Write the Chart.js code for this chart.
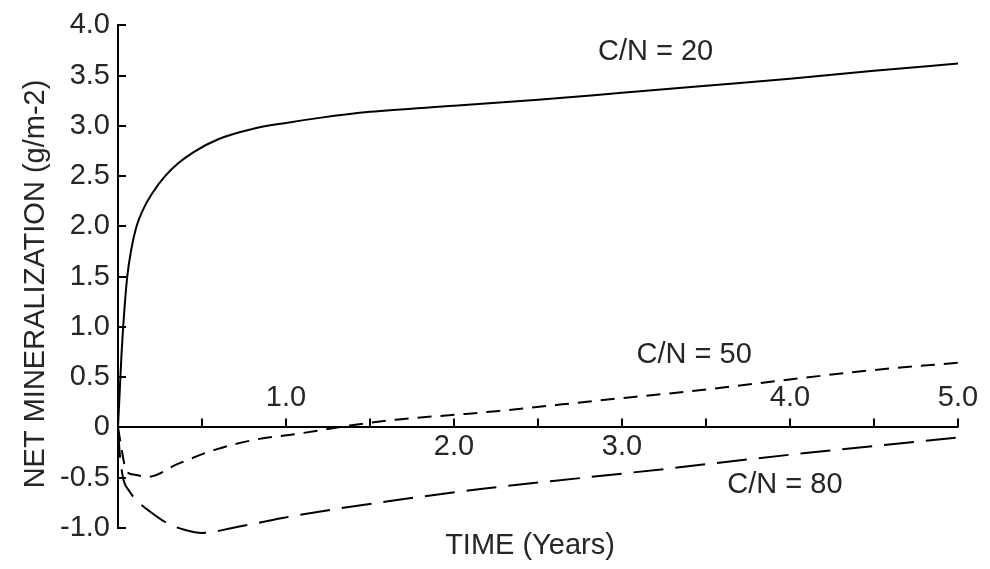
<!DOCTYPE html>
<html>
<head>
<meta charset="utf-8">
<script src="https://cdn.jsdelivr.net/npm/chart.js@4/dist/chart.umd.min.js"></script>
<style>
  body { margin: 0; background: #fff; }
  #wrap { width: 990px; height: 569px; }
</style>
</head>
<body>
<div id="wrap"><canvas id="chart"></canvas></div>
<script>
// values (time in years, mineralization in g/m-2)
const timeCN20 = [0, 0.01, 0.02, 0.035, 0.055, 0.08, 0.11, 0.15, 0.2, 0.28, 0.36, 0.45, 0.6, 0.8, 1.0, 1.2, 1.5, 2.0, 2.5, 3.0, 3.5, 4.0, 4.5, 5.0];
const valueCN20 = [0, 0.35, 0.7, 1.1, 1.5, 1.78, 2.0, 2.17, 2.32, 2.5, 2.63, 2.74, 2.87, 2.97, 3.03, 3.08, 3.14, 3.2, 3.26, 3.33, 3.4, 3.47, 3.55, 3.62];

const timeCN50 = [0, 0.02, 0.04, 0.06, 0.1, 0.18, 0.36, 0.58, 0.82, 1.08, 1.38, 1.67, 2.07, 2.27, 2.87, 3.46, 3.96, 4.46, 5.0];
const valueCN50 = [0, -0.2, -0.38, -0.45, -0.47, -0.49, -0.36, -0.22, -0.12, -0.06, 0.02, 0.08, 0.135, 0.165, 0.27, 0.37, 0.47, 0.565, 0.645];

const timeCN80 = [0, 0.01, 0.03, 0.066, 0.12, 0.185, 0.29, 0.4, 0.5, 0.68, 0.98, 1.28, 1.67, 2.17, 2.77, 3.27, 3.76, 4.26, 5.0];
const valueCN80 = [0, -0.25, -0.5, -0.63, -0.74, -0.83, -0.95, -1.02, -1.05, -1.0, -0.9, -0.815, -0.72, -0.61, -0.5, -0.41, -0.315, -0.225, -0.1];

const yTickLabels = ['-1.0', '-0.5', '0', '0.5', '1.0', '1.5', '2.0', '2.5', '3.0', '3.5', '4.0'];
const xTickValues = [1, 2, 3, 4, 5];
const xTickLabels = ['1.0', '2.0', '3.0', '4.0', '5.0'];
const xTickSide = ['above', 'below', 'below', 'above', 'above'];

const seriesNames = ['C/N = 20', 'C/N = 50', 'C/N = 80'];
// where each curve name sits, in data units
const nameAt = [[3.2, 3.74], [3.43, 0.72], [3.97, -0.575]];

const FONT = '"Liberation Sans", Arial, sans-serif';
const INK = '#262626';

function toXY(xs, ys) {
    return xs.map((x, i) => ({ x: x, y: ys[i] }));
}

// axis line at y = 0, ticks, labels and titles
const axesPlugin = {
    id: 'axes',
    afterDatasetsDraw(chart) {
        const ctx = chart.ctx;
        const xs = chart.scales.x;
        const ys = chart.scales.y;
        const area = chart.chartArea;
        const y0 = ys.getPixelForValue(0);

        ctx.save();
        ctx.strokeStyle = '#000';
        ctx.lineWidth = 2;

        // y ticks pointing inward
        ys.ticks.forEach(t => {
            const py = Math.round(ys.getPixelForValue(t.value));
            ctx.beginPath();
            ctx.moveTo(area.left, py);
            ctx.lineTo(area.left + 8, py);
            ctx.stroke();
        });

        // x axis along zero
        ctx.beginPath();
        ctx.moveTo(area.left, Math.round(y0));
        ctx.lineTo(xs.getPixelForValue(5), Math.round(y0));
        ctx.stroke();

        for (let v = 0.5; v <= 5.001; v += 0.5) {
            const px = Math.round(xs.getPixelForValue(v));
            ctx.beginPath();
            ctx.moveTo(px, y0);
            ctx.lineTo(px, y0 - 9);
            ctx.stroke();
        }

        ctx.fillStyle = INK;
        ctx.font = '29px ' + FONT;
        ctx.textAlign = 'center';
        ctx.textBaseline = 'middle';
        xTickValues.forEach((v, i) => {
            const py = xTickSide[i] === 'above' ? y0 - 29 : y0 + 20;
            ctx.fillText(xTickLabels[i], xs.getPixelForValue(v), py);
        });

        // curve names
        seriesNames.forEach((name, i) => {
            ctx.fillText(name, xs.getPixelForValue(nameAt[i][0]), ys.getPixelForValue(nameAt[i][1]));
        });

        // axis titles
        ctx.fillText('TIME (Years)', 530, 546);
        ctx.translate(36, 284);
        ctx.rotate(-Math.PI / 2);
        ctx.fillText('NET MINERALIZATION (g/m-2)', 0, 0);
        ctx.restore();
    }
};

new Chart(document.getElementById('chart'), {
    type: 'line',
    data: {
        datasets: [
            {
                label: seriesNames[0],
                data: toXY(timeCN20, valueCN20),
                borderColor: '#000',
                borderWidth: 2,
                pointRadius: 0,
                cubicInterpolationMode: 'monotone',
                clip: false
            },
            {
                label: seriesNames[1],
                data: toXY(timeCN50, valueCN50),
                borderColor: '#000',
                borderWidth: 2,
                borderDash: [14, 9],
                pointRadius: 0,
                cubicInterpolationMode: 'monotone',
                clip: false
            },
            {
                label: seriesNames[2],
                data: toXY(timeCN80, valueCN80),
                borderColor: '#000',
                borderWidth: 2,
                borderDash: [30, 12],
                pointRadius: 0,
                cubicInterpolationMode: 'monotone',
                clip: false
            }
        ]
    },
    options: {
        responsive: true,
        maintainAspectRatio: false,
        animation: false,
        layout: { padding: { left: 0, top: 24, right: 32, bottom: 41 } },
        plugins: {
            legend: { display: false },
            tooltip: { enabled: false }
        },
        scales: {
            x: { type: 'linear', min: 0, max: 5, display: false },
            y: {
                min: -1,
                max: 4,
                ticks: {
                    stepSize: 0.5,
                    padding: 8,
                    color: INK,
                    font: { family: FONT, size: 29 },
                    callback: (value, index) => yTickLabels[index]
                },
                grid: { display: false, drawTicks: false },
                border: { display: true, color: '#000', width: 2 },
                afterFit(scale) { scale.width = 118; }
            }
        }
    },
    plugins: [axesPlugin]
});
</script>
</body>
</html>
